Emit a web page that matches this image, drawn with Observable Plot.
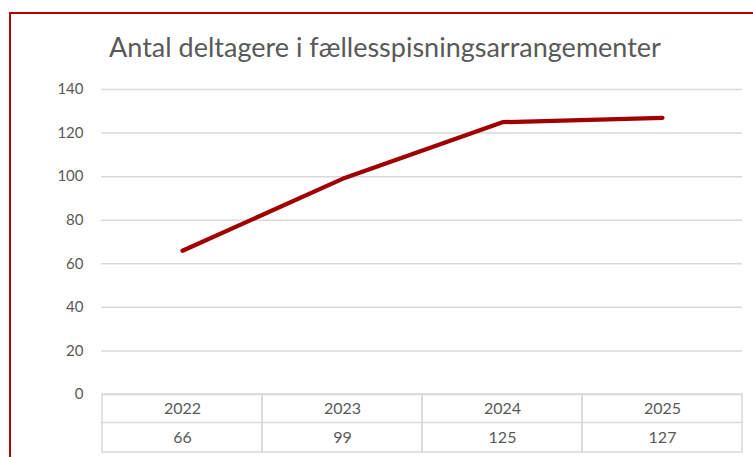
<!DOCTYPE html>
<html>
<head>
<meta charset="utf-8">
<script src="https://cdn.jsdelivr.net/npm/d3@7"></script>
<script src="https://cdn.jsdelivr.net/npm/@observablehq/plot@0.6"></script>
<style>
  html, body { margin: 0; padding: 0; background: #fff; overflow: hidden; }
  #wrap { position: relative; width: 753px; height: 457px; overflow: hidden; font-family: Lato, "Open Sans", sans-serif; }
  #frame { position: absolute; left: 9px; top: 12px; width: 800px; height: 500px; border-left: 2px solid #b00000; border-top: 2px solid #b00000; }
  #title { position: absolute; left: 0; width: 770px; top: 30px; text-align: center; font-size: 27px; color: #595959; }
  #chart { position: absolute; left: 0; top: 0; }
</style>
</head>
<body>
<div id="wrap">
  <div id="frame"></div>
  <div id="chart"></div>
  <div id="title">Antal deltagere i fællesspisningsarrangementer</div>
</div>
<script>
const titleText = "Antal deltagere i fællesspisningsarrangementer";
const years = ["2022", "2023", "2024", "2025"];
const participants = [66, 99, 125, 127];
const yTicks = [0, 20, 40, 60, 80, 100, 120, 140];

const data = years.map((y, i) => ({year: y, value: participants[i]}));
const grid = "#d9d9d9";
const textColor = "#595959";

const chart = Plot.plot({
  width: 753,
  height: 457,
  marginLeft: 101,
  marginRight: 11,
  marginTop: 89,
  marginBottom: 63,
  style: {fontFamily: "Lato, 'Open Sans', sans-serif", fontSize: "15px", color: textColor, background: "transparent", overflow: "visible"},
  x: {type: "band", domain: years, padding: 0, axis: null},
  y: {domain: [0, 140], ticks: yTicks, tickSize: 0, tickPadding: 18, label: null, tickFormat: d => d},
  marks: [
    Plot.ruleY(yTicks, {stroke: grid, strokeWidth: 1.5}),
    Plot.barY(years, {x: d => d, y1: 0, y2: 0, insetBottom: -58, fill: "none", stroke: grid, strokeWidth: 1.5}),
    Plot.ruleY([0], {dy: 28, stroke: grid, strokeWidth: 1.5}),
    Plot.text(data, {x: "year", y: 0, text: "year", dy: 14, fill: textColor, fontSize: 16}),
    Plot.text(data, {x: "year", y: 0, text: d => String(d.value), dy: 43, fill: textColor, fontSize: 16}),
    Plot.line(data, {x: "year", y: "value", stroke: "#a00000", strokeWidth: 4.2})
  ]
});
chart.querySelectorAll("g[aria-label='y-axis tick label'] text, g[aria-label='y-axis'] text").forEach(t => t.setAttribute("fill", textColor));
document.getElementById("chart").appendChild(chart);
</script>
</body>
</html>
